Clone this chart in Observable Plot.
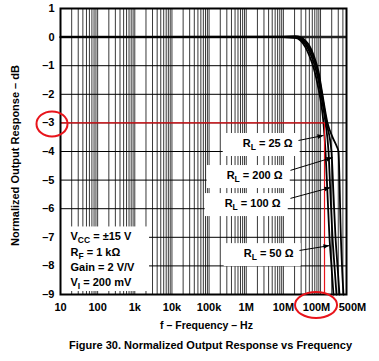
<!DOCTYPE html>
<html><head><meta charset="utf-8">
<script src="https://cdn.jsdelivr.net/npm/d3@7"></script>
<script src="https://cdn.jsdelivr.net/npm/@observablehq/plot@0.6"></script>
<style>html,body{margin:0;padding:0;background:#fff}</style>
</head><body><div id="chart"></div>
<script>
// ---- axis ticks ----
const xTickValues = [10, 100, 1e3, 1e4, 1e5, 1e6, 1e7, 1e8, 5e8];
const xTickLabels = ["10", "100", "1k", "10k", "100k", "1M", "10M", "100M", "500M"];
const yTickValues = [1, 0, -1, -2, -3, -4, -5, -6, -7, -8, -9];
const yTickLabels = ["1", "0", "–1", "–2", "–3", "–4", "–5", "–6", "–7", "–8", "–9"];

// ---- curves (frequency in Hz, normalized response in dB) ----
const curveNames = ["25", "50", "100", "200"];
const freq25 = [10, 10e6, 21e6, 29e6, 39e6, 50e6, 66e6, 88e6, 106e6, 120e6, 136e6, 154e6, 174e6, 197e6, 223e6];
const db25   = [0, 0, -0.03, -0.12, -0.35, -0.65, -1.1, -1.8, -2.4, -3, -4, -5.5, -7, -8, -9];
const freq50 = [10, 10e6, 21e6, 29e6, 39e6, 50e6, 66e6, 88e6, 106e6, 136e6, 164e6, 185e6, 210e6, 237e6, 269e6];
const db50   = [0, 0, -0.02, -0.08, -0.25, -0.5, -0.9, -1.5, -2.1, -3, -4, -5.5, -7, -8, -9];
const freq100 = [10, 10e6, 21e6, 29e6, 39e6, 50e6, 66e6, 88e6, 106e6, 145e6, 197e6, 223e6, 253e6, 286e6, 324e6];
const db100   = [0, 0, 0, -0.05, -0.18, -0.4, -0.75, -1.3, -1.9, -3, -4, -5.5, -7, -8, -9];
const freq200 = [10, 10e6, 21e6, 29e6, 39e6, 50e6, 66e6, 88e6, 106e6, 154e6, 210e6, 269e6, 304e6, 324e6, 344e6, 378e6, 415e6];
const db200   = [0, 0.02, 0.03, 0, -0.12, -0.3, -0.65, -1.2, -1.8, -3, -3.5, -3.8, -4.0, -5, -6.5, -8, -9];

// ---- annotations ----
const labelTexts = ["R_{L} = 25 Ω", "R_{L} = 200 Ω", "R_{L} = 100 Ω", "R_{L} = 50 Ω"];
const labelF   = [17.6e6, 9.5e6, 8.4e6, 18.7e6];
const labelDb  = [-3.72, -4.84, -5.82, -7.57];
const arrowFromF  = [25.5e6, 15.5e6, 15.5e6, 27.1e6];
const arrowFromDb = [-3.615, -4.66, -5.64, -7.46];
const arrowToF    = [120e6, 209.7e6, 185e6, 174e6];
const arrowToDb   = [-3.44, -4.21, -5.26, -7.29];
const paramLines = ["V_{CC} = ±15 V", "R_{F} = 1 kΩ", "Gain = 2 V/V", "V_{I} = 200 mV"];
const cutoffDb = -3;
const cutoffFreq = 128e6;

const xDomain = [10, 5e8];
const yDomain = [-9, 1];

// ---- build tables ----
const curveFreqs = [freq25, freq50, freq100, freq200];
const curveDbs = [db25, db50, db100, db200];
const curveRows = curveNames.flatMap((name, i) => curveFreqs[i].map((f, j) => ({rl: name, f, db: curveDbs[i][j]})));
const labelRows = labelTexts.map((t, i) => ({t, f: labelF[i], db: labelDb[i], f1: arrowFromF[i], db1: arrowFromDb[i], f2: arrowToF[i], db2: arrowToDb[i]}));
const cutoffRows = [{f: xDomain[0], db: cutoffDb}, {f: cutoffFreq, db: cutoffDb}, {f: cutoffFreq, db: yDomain[0]}];
const xLabelRows = xTickValues.map((v, i) => ({v, label: xTickLabels[i]}));
const gridFreqs = d3.scaleLog().domain(xDomain).ticks(20);

const font = "'Liberation Sans', Arial, Helvetica, sans-serif";
const T = {fontSize: 11, fontWeight: "bold"};

const chart = Plot.plot({
  width: 379, height: 361,
  marginLeft: 60, marginRight: 33, marginTop: 8, marginBottom: 67,
  x: {type: "log", domain: xDomain, axis: null},
  y: {domain: yDomain, axis: null},
  style: {fontFamily: font, fontWeight: "bold", background: "white", color: "black"},
  marks: [
    Plot.ruleX(gridFreqs, {stroke: "#000", strokeOpacity: 0.78, strokeWidth: 1}),
    Plot.ruleY(yTickValues, {stroke: "#000", strokeWidth: 1}),
    Plot.ruleY([0], {stroke: "#222", strokeWidth: 2.5}),
    Plot.text(labelRows, {x: "f", y: "db", text: "t", textAnchor: "end", ...T}),
    Plot.text([paramLines.join("\n")], {text: d => d, frameAnchor: "bottom-left", dx: 10, dy: -36, textAnchor: "start", lineAnchor: "middle", lineHeight: 1.39, ...T}),
    Plot.line(curveRows, {x: "f", y: "db", z: "rl", stroke: "#000", strokeWidth: 1.8, curve: "monotone-x"}),
    Plot.line(cutoffRows, {x: "f", y: "db", stroke: "#e8141b", strokeWidth: 1.2}),
    Plot.link(labelRows, {x1: "f1", y1: "db1", x2: "f2", y2: "db2", stroke: "#000", strokeWidth: 1, markerEnd: "arrow"}),
    Plot.frame({stroke: "#000", strokeWidth: 2}),
    Plot.text(yTickValues, {y: d => d, text: (d, i) => yTickLabels[i], frameAnchor: "left", dx: -6, textAnchor: "end", ...T}),
    Plot.text(xLabelRows.filter(d => d.label !== "100M" && d.label !== "500M"), {x: "v", text: "label", frameAnchor: "bottom", lineAnchor: "middle", dy: 12.5, ...T}),
    Plot.text(xLabelRows.filter(d => d.label === "100M"), {x: "v", text: "label", frameAnchor: "bottom", lineAnchor: "middle", dy: 12.5, dx: -4, ...T}),
    Plot.text(xLabelRows.filter(d => d.label === "500M"), {x: "v", text: "label", frameAnchor: "bottom", lineAnchor: "middle", dy: 12.5, dx: 6, ...T}),
    Plot.text(["Normalized Output Response – dB"], {text: d => d, frameAnchor: "left", textAnchor: "middle", lineAnchor: "middle", dx: -45, dy: 4, rotate: -90, ...T}),
    Plot.text(["f – Frequency – Hz"], {text: d => d, frameAnchor: "bottom", textAnchor: "middle", lineAnchor: "middle", dx: 3, dy: 31, ...T, fontSize: 10.5}),
    Plot.text(["Figure 30. Normalized Output Response vs Frequency"], {text: d => d, frameAnchor: "bottom", textAnchor: "middle", lineAnchor: "middle", dx: 7, dy: 51, ...T})
  ]
});
document.getElementById("chart").append(chart);

// ---- post-processing: subscripts, label boxes, arrowheads, red ellipses ----
const NS = "http://www.w3.org/2000/svg";
const svg = chart;
function applySubs(el) {
  const str = el.textContent;
  if (!str.includes("_{")) return false;
  const parts = str.split(/(_\{[^}]*\})/);
  el.textContent = "";
  let shifted = false;
  for (const p of parts) {
    if (!p) continue;
    const t = document.createElementNS(NS, "tspan");
    if (p.startsWith("_{")) {
      t.textContent = p.slice(2, -1);
      t.setAttribute("dy", "3");
      t.setAttribute("font-size", "8.5");
      shifted = true;
    } else {
      t.textContent = p;
      if (shifted) { t.setAttribute("dy", "-3"); shifted = false; }
    }
    el.appendChild(t);
  }
  return true;
}
const allTexts = Array.from(svg.querySelectorAll("text"));
const rlTexts = [], paramTexts = [];
for (const txt of allTexts) {
  const content = txt.textContent;
  const lines = Array.from(txt.children).filter(c => c.tagName === "tspan");
  if (lines.length) lines.forEach(applySubs); else applySubs(txt);
  if (content.startsWith("R_{L}")) rlTexts.push(txt);
  if (content.includes("Gain")) paramTexts.push(txt);
}
const sr = svg.getBoundingClientRect();
const xs = chart.scale("x"), ys = chart.scale("y");
function topGroup(el) { let g = el; while (g.parentNode !== svg) g = g.parentNode; return g; }
function addBox(el, x0, y0, x1, y1) {
  const r = document.createElementNS(NS, "rect");
  r.setAttribute("x", x0); r.setAttribute("y", y0);
  r.setAttribute("width", x1 - x0); r.setAttribute("height", y1 - y0);
  r.setAttribute("fill", "white");
  svg.insertBefore(r, topGroup(el));
}
for (const t of rlTexts) {
  const b = t.getBoundingClientRect();
  addBox(t, b.left - sr.left - 20, b.top - sr.top - 4, b.right - sr.left + 7, b.bottom - sr.top + 4);
}
for (const t of paramTexts) {
  const b = t.getBoundingClientRect();
  addBox(t, xs.apply(xDomain[0]) + 1, b.top - sr.top - 4, b.right - sr.left + 14, ys.apply(yDomain[0]) - 3);
}
svg.querySelectorAll("marker").forEach(m => {
  m.setAttribute("fill", "#000");
  m.setAttribute("stroke", "none");
  m.setAttribute("overflow", "visible");
  const p = m.querySelector("path");
  if (p) p.setAttribute("d", "M-9,-3.5L0,0L-9,3.5Z");
});
function ellipse(cx, cy, rx, ry) {
  const e = document.createElementNS(NS, "ellipse");
  e.setAttribute("cx", cx); e.setAttribute("cy", cy);
  e.setAttribute("rx", rx); e.setAttribute("ry", ry);
  e.setAttribute("fill", "none"); e.setAttribute("stroke", "#e8141b"); e.setAttribute("stroke-width", 2);
  svg.appendChild(e);
}
ellipse(xs.apply(xDomain[0]) - 8, ys.apply(cutoffDb) + 1.5, 15.5, 12.5);
ellipse(xs.apply(1e8) - 4, ys.apply(yDomain[0]) + 11, 21, 13);
</script>
</body></html>
